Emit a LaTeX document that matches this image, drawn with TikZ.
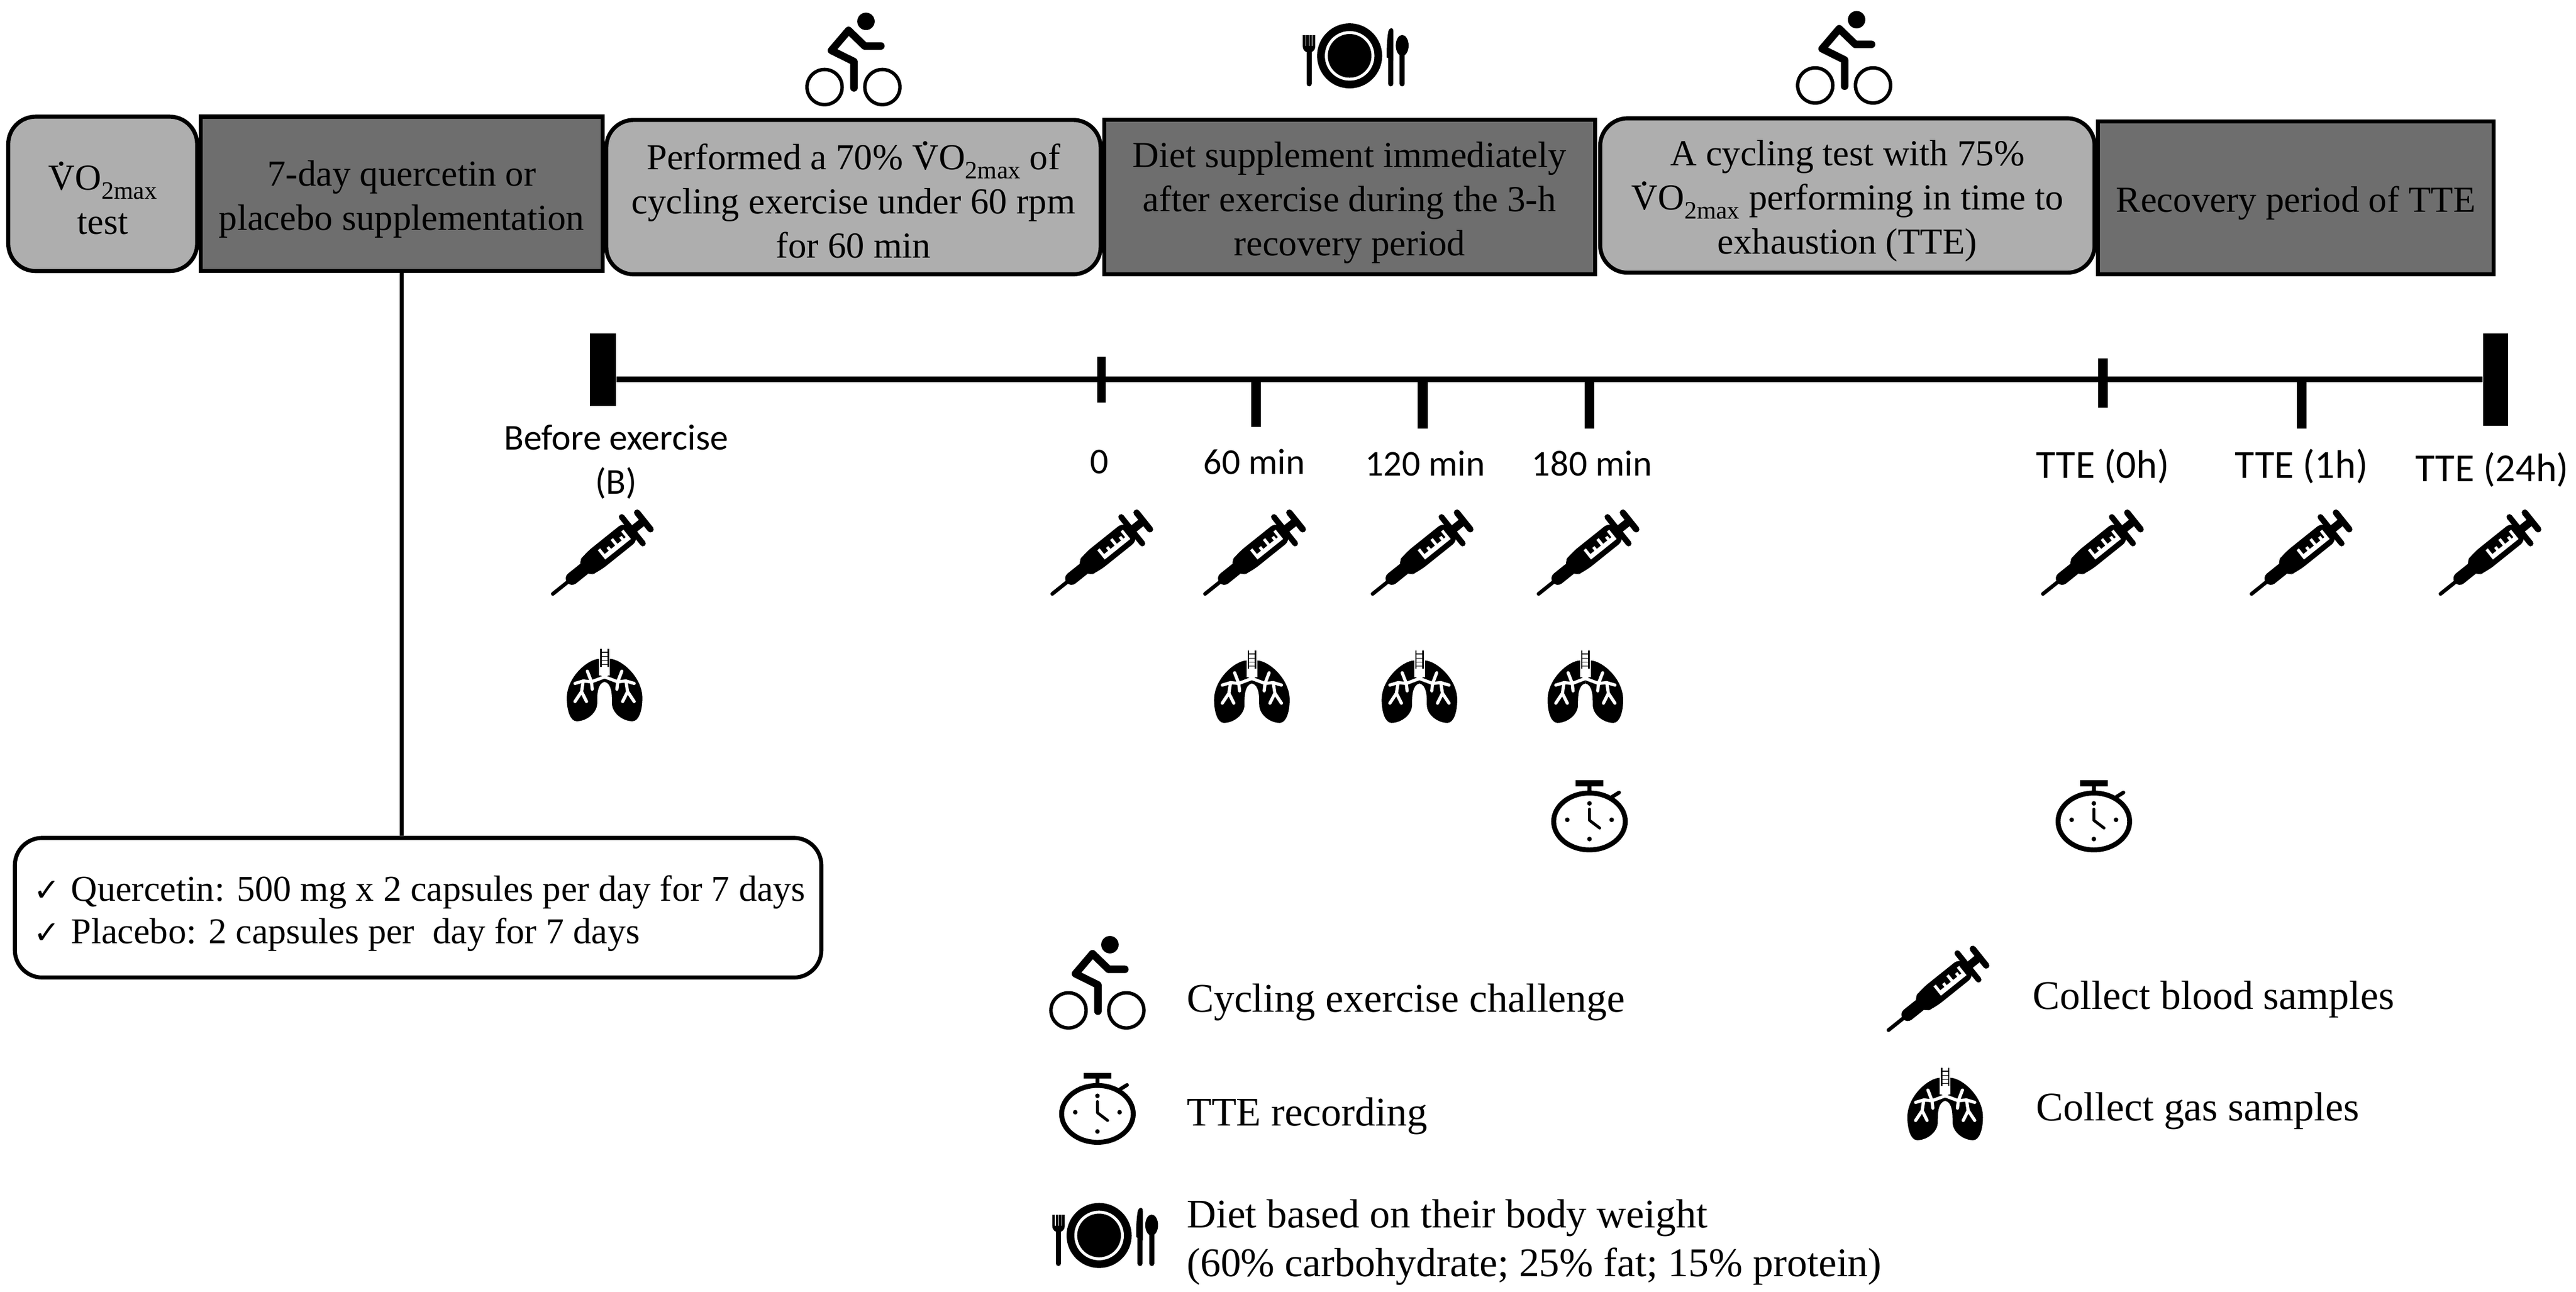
\documentclass[tikz,border=0pt]{standalone}
\usepackage{fontspec}
\setmainfont{Liberation Serif}
\newfontfamily\labelfont{Carlito}
\newfontfamily\tickfont{DejaVu Sans}
\newcommand{\vdot}{\leavevmode\hbox{\rlap{\hspace{.23em}\smash{\raisebox{.66em}{.}}}V}}
\newcommand{\vomax}{\vdot O\raisebox{-.25em}{\scalebox{.68}{2max}}}
\newcommand{\tickmark}{\makebox[.46cm][l]{\tickfont\fontsize{11}{11}\selectfont ✓}}
\definecolor{softgray}{HTML}{AEAEAE}
\definecolor{darkgray}{HTML}{6E6E6E}
\tikzset{
  boxtext/.style={font=\fontsize{12.7}{15.3}\selectfont,align=center,inner sep=0pt,draw=black,line width=1.4pt},
  softbox/.style={boxtext,fill=softgray,rounded corners=9.5pt},
  darkbox/.style={boxtext,fill=darkgray},
  droptext/.style={execute at begin node={\rule{0pt}{#1}}},
  timelabel/.style={font=\labelfont\fontsize{12.6}{15.3}\selectfont,align=center},
  ttelabel/.style={font=\labelfont\fontsize{13.8}{15.3}\selectfont,align=center},
  legendtext/.style={font=\fontsize{14.1}{17}\selectfont,align=left,anchor=west,inner sep=0pt},
  cyclist/.pic={
    \fill (7.6,-23) circle[radius=5.3];
    \draw[line width=1.2pt] (-17.6,17) circle[radius=10.7] (17.6,17) circle[radius=10.7];
    \draw[line width=2.6pt,line cap=round,line join=round] (16.7,-8) -- (6.8,-8) -- (-3,-17.5) -- (-13.4,-5.3) -- (.3,1.5) -- (.3,17.5);
  },
  stopwatch/.pic={
    \draw[line width=1.7pt] (0,0) ellipse[x radius=21.8,y radius=17.3];
    \fill (-8.5,-25) rectangle (8.5,-21.4);
    \draw[line width=1.5pt] (0,-22) -- (0,-16);
    \draw[line width=1.3pt,line cap=round] (13.8,-15) -- (18,-17.6);
    \fill (0,-11) circle[radius=1.4] (0,10.7) circle[radius=1.4] (-13.5,-1) circle[radius=1.4] (13.5,-1) circle[radius=1.4];
    \draw[line width=1pt,line cap=round,line join=round] (0,-7.5) -- (0,-.7) -- (6.2,4);
  },
  dinnerset/.pic={
    \fill (0,0) circle[radius=19.8];
    \draw[white,line width=1pt] (0,0) circle[radius=14.2];
    % fork
    \draw[line width=1.8pt,line cap=round] (-24.7,-3) -- (-24.7,17);
    \fill (-28.5,-12.6) -- (-20.9,-12.6) -- (-20.9,-6) .. controls (-20.9,-3) and (-23,-2) .. (-24.7,-2) .. controls (-26.4,-2) and (-28.5,-3) .. (-28.5,-6) -- cycle;
    \draw[white,line width=.25pt] (-26.6,-12.8) -- (-26.6,-6) (-24.7,-12.8) -- (-24.7,-6) (-22.8,-12.8) -- (-22.8,-6);
    % knife
    \draw[line width=1.8pt,line cap=round] (25,0) -- (25,17);
    \fill (26.6,-15) .. controls (26.6,-17.5) and (24.5,-17.5) .. (23.6,-15) .. controls (22.6,-10) and (22.5,-3) .. (22.6,1) -- (26.6,3) -- cycle;
    % spoon
    \fill (32,-6.3) ellipse[x radius=3.9,y radius=6.4];
    \draw[line width=1.8pt,line cap=round] (32,-3) -- (32,17);
  },
  syringe/.pic={
    \begin{scope}[shift={(-30.5,25)},rotate=38.7]
      \draw[line width=1.3pt,line cap=round] (0,0) -- (16,0);
      \draw[line width=4.4pt,line cap=round] (15,0) -- (24,0);
      \fill[rounded corners=3pt] (23,-5) -- (31,-7) -- (62,-7) -- (62,7) -- (31,7) -- (23,5) -- cycle;
      \draw[line width=2pt,line cap=round] (62,-10.3) -- (62,10.3);
      \draw[line width=2.8pt] (62,0) -- (71,0);
      \draw[line width=2.2pt,line cap=round] (71,-6.5) -- (71,6.5);
      % window
      \fill[white] (38,.8) rectangle (58,3.6);
      \fill[white] (38,-3.6) rectangle (39.8,1) (43,-1.4) rectangle (44.8,1) (48,-3.6) rectangle (49.8,1) (53,-1.4) rectangle (54.8,1) (56.2,-3.6) rectangle (58,1);
    \end{scope}
  },
  lungside/.pic={
    \fill (3,-16) .. controls (10,-16) and (23,-5) .. (23,8) .. controls (23,15) and (21,22) .. (17,22) .. controls (11,22) and (4.5,17) .. (4.5,11) .. controls (4.5,6) and (4.5,-1) .. (0,-2) -- (0,-5) -- (3,-6) -- cycle;
    \draw[white,line width=1.1pt,line cap=round,line join=round] (0,-5) -- (8,-2) -- (7.5,2.5) (8,-2) -- (10.5,-8.5) (8,-2) -- (13,-2.5) -- (18,-1) (13,-2.5) -- (14,4) -- (18,10) (14,4) -- (11,10);
    \draw[white,line width=.8pt] (0,-12) -- (0,-5) (2.6,-16.5) -- (2.6,-6);
    \draw[line width=.5pt] (2.2,-22) -- (2.2,-11);
  },
  lungs/.pic={
    \pic {lungside};
    \pic[xscale=-1] {lungside};
    \draw[line width=.25pt] (-2,-20) -- (2,-20) (-2,-17.5) -- (2,-17.5) (-2,-15) -- (2,-15) (-2,-12.5) -- (2,-12.5);
  }
}
\begin{document}
\begin{tikzpicture}[x=0.02cm,y=-0.02cm]
  \useasboundingbox (0,0) rectangle (1568,786.4);

  % phases along the top
  \node[softbox,droptext=27.9pt,minimum width=2.3cm,minimum height=1.88cm] (votest) at (62.5,118) {\vomax\\test};
  \node[darkbox,droptext=27.9pt,minimum width=4.9cm,minimum height=1.88cm] (suppl) at (244.5,118) {7-day quercetin or\\placebo supplementation};
  \node[softbox,droptext=42.2pt,minimum width=6.02cm,minimum height=1.88cm] (perform) at (519.5,120) {Performed a 70\% \vomax{} of\\cycling exercise under 60 rpm\\for 60 min};
  \node[darkbox,droptext=43.2pt,minimum width=5.98cm,minimum height=1.88cm] (dietsup) at (821.5,120) {Diet supplement immediately\\after exercise during the 3-h\\recovery period};
  \node[softbox,droptext=43.2pt,minimum width=6.02cm,minimum height=1.88cm] (cyctest) at (1124.5,119) {A cycling test with 75\%\\\vomax{} performing in time to\\exhaustion (TTE)};
  \node[darkbox,droptext=12.6pt,minimum width=4.82cm,minimum height=1.86cm] (recov) at (1397.5,120.5) {Recovery period of TTE};

  \node[draw=black,line width=1.4pt,rounded corners=9.5pt,minimum width=9.82cm,minimum height=1.7cm] (dose) at (254.5,552.5) {};
  \node[inner sep=0pt,align=left,anchor=west,font=\fontsize{12.6}{14.8}\selectfont] (dosetext) at (20,556) {\tickmark Quercetin: 500 mg x 2 capsules per day for 7 days\\\tickmark Placebo: 2 capsules per\ \ day for 7 days};
  \draw[line width=1.3pt] (suppl.south) -- (suppl.south |- dose.north);

  % timeline
  \begin{scope}[every node/.style={fill=black,inner sep=0pt}]
    \node[minimum width=.32cm,minimum height=.88cm] (tstart) at (367,225) {};
    \node[minimum width=.3cm,minimum height=1.12cm] (tend) at (1519,231) {};
    \node[minimum width=.1cm,minimum height=.56cm] (t0) at (670.5,231) {};
    \node[minimum width=.12cm,minimum height=.58cm] (t60) at (764.5,245.5) {};
    \node[minimum width=.12cm,minimum height=.6cm] (t120) at (866,246) {};
    \node[minimum width=.12cm,minimum height=.6cm] (t180) at (967.5,246) {};
    \node[minimum width=.12cm,minimum height=.6cm] (tzero) at (1280,233) {};
    \node[minimum width=.12cm,minimum height=.6cm] (tone) at (1401,246) {};
  \end{scope}
  \draw[line width=2pt] (tstart.east |- 0,231) -- (tend.west |- 0,231);

  \begin{scope}[every node/.style={timelabel}]
    \node (lblb) at (375,281) {Before exercise\\(B)};
    \node (lbl0) at (669,281) {0};
    \node (lbl60) at (763.5,281) {60 min};
    \node (lbl120) at (867.5,282) {120 min};
    \node (lbl180) at (969,282) {180 min};
  \end{scope}
  \node[ttelabel] (lblzero) at (1280,284) {TTE (0h)};
  \node[ttelabel] (lblone) at (1401,284) {TTE (1h)};
  \node[ttelabel] (lbltwo) at (1517,286) {TTE (24h)};

  % icons
  \pic (rideone) at (519.5,36) {cyclist};
  \pic (ridetwo) at (1122.5,35) {cyclist};
  \pic (mealtop) at (821.5,34) {dinnerset};

  \pic (syrb) at (367,336.5) {syringe};
  \pic (syr0) at (671,336.5) {syringe};
  \pic (syr60) at (764,336.5) {syringe};
  \pic (syr120) at (866,336.5) {syringe};
  \pic (syr180) at (967,336.5) {syringe};
  \pic (syrzero) at (1274,336.5) {syringe};
  \pic (syrone) at (1401,336.5) {syringe};
  \pic (syrtwo) at (1516,336.5) {syringe};

  \pic (lungb) at (368,417) {lungs};
  \pic (lung60) at (762,418) {lungs};
  \pic (lung120) at (864,418) {lungs};
  \pic (lung180) at (965,418) {lungs};

  \pic (watchone) at (967.5,500) {stopwatch};
  \pic (watchtwo) at (1274.5,500) {stopwatch};

  % legend
  \pic (keyride) at (668,598) {cyclist};
  \pic (keywatch) at (668,678) {stopwatch};
  \pic (keymeal) at (669,752) {dinnerset};
  \pic (keysyr) at (1180,602) {syringe};
  \pic (keylung) at (1184,672) {lungs};

  \node[legendtext] (txtride) at (722,610.2) {Cycling exercise challenge};
  \node[legendtext] (txtwatch) at (722,679.2) {TTE recording};
  \node[legendtext] (txtmeal) at (722,756.2) {Diet based on their body weight\\(60\% carbohydrate; 25\% fat; 15\% protein)};
  \node[legendtext] (txtsyr) at (1237,608.2) {Collect blood samples};
  \node[legendtext] (txtlung) at (1239,676.2) {Collect gas samples};
\end{tikzpicture}
\end{document}
